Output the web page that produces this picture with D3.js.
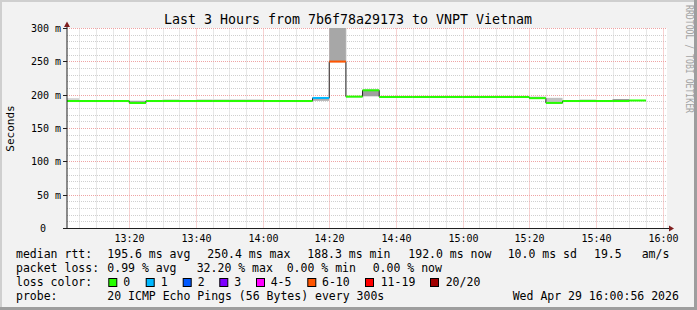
<!DOCTYPE html>
<html><head><meta charset="utf-8">
<script src="https://cdn.jsdelivr.net/npm/d3@7"></script>
<style>
body{margin:0;background:#f2f2f2}
svg{display:block}
text{font-family:"DejaVu Sans Mono",monospace;fill:#000}
</style>
</head><body>
<svg id="c" width="697" height="310"></svg>
<script>
// ---- data ----
const stepStarts = ["13:00","13:05","13:10","13:15","13:20","13:25","13:30","13:35","13:40","13:45",
  "13:50","13:55","14:00","14:05","14:10","14:15","14:20","14:25","14:30","14:35",
  "14:40","14:45","14:50","14:55","15:00","15:05","15:10","15:15","15:20","15:25",
  "15:30","15:35","15:40","15:45","15:50"];
const medianMs = [191.2,191.2,191.2,191.2,188.3,191.2,191.2,191.2,191.2,191.2,
  191.2,191.2,191.2,191.2,191.2,195.8,250.4,197.8,207.3,197.3,
  197.3,197.3,197.3,197.3,197.3,197.3,197.3,197.3,195.5,188.4,
  191.2,191.2,191.2,191.2,192.0];
const lossPings = [0,0,0,0,0,0,0,0,0,0, 0,0,0,0,0,1,6.44,0,0,0, 0,0,0,0,0,0,0,0,0,0, 0,0,0,0,0];
const smokeLoMs = [191,null,null,null,188.3,null,191,null,191,191,
  191,191,null,null,null,191.5,250,null,198.3,null,
  null,null,null,null,null,null,null,null,195.5,188.4,
  null,191,null,191,null];
const smokeHiMs = [195.5,null,null,null,191.6,null,194,null,194,194,
  194,194,null,null,null,196,420,null,206.5,null,
  null,null,null,null,null,null,null,null,198.5,196,
  null,194,null,194.2,null];
const smokeDensity = [0.2,0,0,0,0.6,0,0.15,0,0.15,0.15,
  0.15,0.15,0,0,0,0.5,0.55,0,0.6,0,
  0,0,0,0,0,0,0,0,0.1,0.35,
  0,0.15,0,0.65,0];

const yTicks = [0,50,100,150,200,250,300];
const yTickLabels = ["0","50 m","100 m","150 m","200 m","250 m","300 m"];
const xTickLabels = ["13:20","13:40","14:00","14:20","14:40","15:00","15:20","15:40","16:00"];

const lossLabels = ["0","1","2","3","4-5","6-10","11-19","20/20"];
const lossUpper  = [0,1,2,3,5,10,19,20];
const lossColors = ["#26ff00","#00b8ff","#0059ff","#7e00ff","#ff00ff","#ff5500","#ff0000","#a00000"];

const titleText = "Last 3 Hours from 7b6f78a29173 to VNPT Vietnam";
const rttLabel = "median rtt:";
const rttStats = ["195.6 ms avg","250.4 ms max","188.3 ms min","192.0 ms now","10.0 ms sd","19.5","am/s"];
const lossLabel = "packet loss:";
const lossStats = ["0.99 % avg","32.20 % max","0.00 % min","0.00 % now"];
const colorLabel = "loss color:";
const probeLabel = "probe:";
const probeText = "20 ICMP Echo Pings (56 Bytes) every 300s";
const dateText = "Wed Apr 29 16:00:56 2026";
const watermark = "RRDTOOL / TOBI OETIKER";

// ---- helpers ----
const T = s => { const p = s.split(":").map(Number); return new Date(2026,3,29,p[0],p[1],p[2]||0); };
const STEP = 5*60*1000;

const svg = d3.select("#c");
const W = 697, H = 310;
const L = 67, R = 667, TOP = 28.5, BOT = 228.5;

const x = d3.scaleTime().domain([T("13:01:20"), T("16:01:20")]).range([L, R]);
const y = d3.scaleLinear().domain([0,300]).range([BOT, TOP]);

// background & frame
svg.append("rect").attr("width",W).attr("height",H).attr("fill","#f2f2f2");
svg.append("rect").attr("x",0).attr("y",0).attr("width",W).attr("height",2).attr("fill","#cfcfcf");
svg.append("rect").attr("x",0).attr("y",0).attr("width",2).attr("height",H).attr("fill","#cfcfcf");
svg.append("rect").attr("x",0).attr("y",H-3).attr("width",W).attr("height",3).attr("fill","#9e9e9e");
svg.append("rect").attr("x",W-3).attr("y",0).attr("width",3).attr("height",H).attr("fill","#9e9e9e");

// canvas
svg.append("rect").attr("x",L).attr("y",TOP-0.5).attr("width",R-L).attr("height",BOT-TOP+0.5).attr("fill","#fff");

svg.append("clipPath").attr("id","plot").append("rect")
  .attr("x",L).attr("y",TOP-0.5).attr("width",R-L).attr("height",BOT-TOP+0.5);

// grid
const g = svg.append("g");
const minorT = x.ticks(d3.timeMinute.every(5));
const majorT = x.ticks(d3.timeMinute.every(20));
const isMajor = t => t.getMinutes() % 20 === 0;
minorT.filter(t => !isMajor(t)).forEach(t => {
  const px = Math.round(x(t)) + 0.5;
  g.append("line").attr("x1",px).attr("x2",px).attr("y1",TOP).attr("y2",BOT)
    .attr("stroke","#cfcfcf").attr("stroke-dasharray","1,1");
});
const minorV = d3.range(0,301,10);
minorV.filter(v => v % 50 !== 0).forEach(v => {
  const py = Math.floor(y(v)) + 0.5;
  g.append("line").attr("x1",L).attr("x2",R).attr("y1",py).attr("y2",py)
    .attr("stroke","#cfcfcf").attr("stroke-dasharray","1,1");
});
majorT.forEach(t => {
  const px = Math.round(x(t)) + 0.5;
  g.append("line").attr("x1",px).attr("x2",px).attr("y1",TOP).attr("y2",BOT)
    .attr("stroke","#eea4a4").attr("stroke-dasharray","1,1");
});
yTicks.filter(v => v > 0).forEach(v => {
  const py = Math.floor(y(v)) + 0.5;
  g.append("line").attr("x1",L).attr("x2",R).attr("y1",py).attr("y2",py)
    .attr("stroke","#eea4a4").attr("stroke-dasharray","1,1");
});

// data
const steps = stepStarts.map((s,i) => ({
  t0: T(s), t1: new Date(T(s).getTime()+STEP),
  med: medianMs[i], loss: lossPings[i],
  lo: smokeLoMs[i], hi: smokeHiMs[i], d: smokeDensity[i]
}));
const shade = d3.interpolateRgb("#ececec", "#6e6e6e");
const dataG = svg.append("g").attr("clip-path","url(#plot)");

dataG.selectAll("rect.smoke").data(steps.filter(d => d.lo != null)).join("rect")
  .attr("class","smoke")
  .attr("x", d => x(d.t0)).attr("width", d => x(d.t1) - x(d.t0))
  .attr("y", d => y(d.hi)).attr("height", d => y(d.lo) - y(d.hi))
  .attr("fill", d => shade(d.d));

const linePts = steps.map(d => [d.t0, d.med]);
linePts.push([steps[steps.length-1].t1, steps[steps.length-1].med]);
dataG.append("path")
  .attr("d", d3.line().x(d => x(d[0])).y(d => y(d[1])).curve(d3.curveStepAfter)(linePts))
  .attr("fill","none").attr("stroke","#222").attr("stroke-width",1);

const lossIdx = v => lossUpper.findIndex(u => v <= u);
dataG.selectAll("rect.med").data(steps).join("rect")
  .attr("class","med")
  .attr("x", d => x(d.t0)).attr("width", d => x(d.t1) - x(d.t0))
  .attr("y", d => y(d.med) - 1).attr("height", 2)
  .attr("fill", d => lossColors[lossIdx(d.loss)]);

// axes
svg.append("line").attr("x1",L).attr("x2",L).attr("y1",BOT+0.5).attr("y2",24)
  .attr("stroke","#1f1f1f").attr("stroke-width",1);
svg.append("line").attr("x1",L-4).attr("x2",671).attr("y1",BOT).attr("y2",BOT)
  .attr("stroke","#1f1f1f").attr("stroke-width",1);
svg.append("path").attr("d","M67,21.5L64,27L70,27Z").attr("fill","#801f1f");
svg.append("path").attr("d","M669,225.5L674,228.5L669,231.5Z").attr("fill","#801f1f");

yTicks.forEach((v,i) => {
  const py = Math.floor(y(v)) + 0.5;
  svg.append("line").attr("x1",L-4).attr("x2",L).attr("y1",py).attr("y2",py).attr("stroke","#1f1f1f");
  svg.append("text").attr("x", v === 0 ? 46 : 61).attr("y", py + 3.5)
    .attr("text-anchor","end").attr("font-size","10px").text(yTickLabels[i]);
});
majorT.forEach(t => {
  const lbl = d3.timeFormat("%H:%M")(t);
  if (!xTickLabels.includes(lbl)) return;
  svg.append("text").attr("x", Math.round(x(t)) + 0.5).attr("y", 242)
    .attr("text-anchor","middle").attr("font-size","10px").text(lbl);
});

// title & labels
svg.append("text").attr("x",348).attr("y",24).attr("text-anchor","middle")
  .attr("font-size","13.3px").text(titleText);
svg.append("text").attr("transform","translate(14,128.5) rotate(-90)").attr("text-anchor","middle")
  .attr("font-size","11px").text("Seconds");
svg.append("text").attr("transform","translate(686,5) rotate(90)")
  .attr("font-size","10.5px").attr("textLength",108).attr("lengthAdjust","spacingAndGlyphs")
  .style("fill","#a4a4a4").text(watermark);

// legend
const FS = "11.5px";
const leg = (tx, px, py) => svg.append("text").attr("x",px).attr("y",py).attr("font-size",FS).text(tx);
leg(rttLabel, 16, 258);
[107.3,207.3,307.3,408.3,507.7,594,641.7].forEach((px,i) => leg(rttStats[i], px, 258));
leg(lossLabel, 16, 272);
[107.3,196.7,286.7,372.7].forEach((px,i) => leg(lossStats[i], px, 272));
leg(colorLabel, 16, 286);
const swX = [108.3,145.7,182.7,219.3,256,307.3,365,430];
const lbX = [123.3,160.7,197.7,234.3,270.7,322,380.7,445.7];
lossLabels.forEach((l,i) => {
  svg.append("rect").attr("x",swX[i]+0.5).attr("y",278.5).attr("width",8).attr("height",8)
    .attr("fill",lossColors[i]).attr("stroke","#000").attr("stroke-width",1);
  leg(l, lbX[i], 286);
});
leg(probeLabel, 16, 300);
leg(probeText, 107.3, 300);
leg(dateText, 512.7, 300);
</script>
</body></html>
